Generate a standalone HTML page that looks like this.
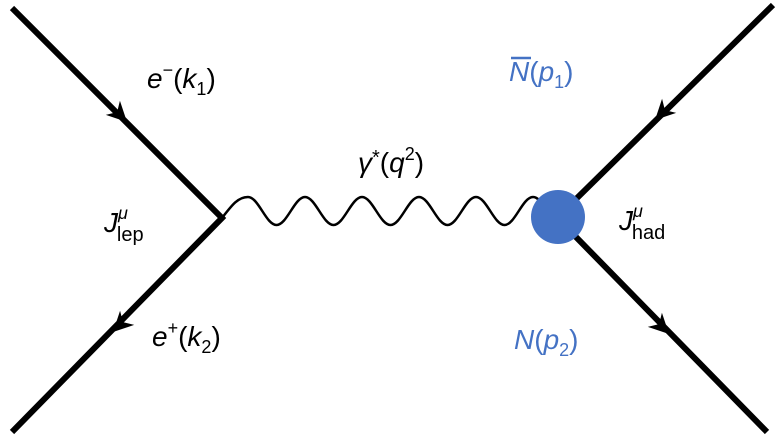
<!DOCTYPE html>
<html><head><meta charset="utf-8"><style>
html,body{margin:0;padding:0;background:#fff;}
svg{display:block;}
text{font-family:"Liberation Sans",Arial,sans-serif;font-size:28px;}
</style></head><body>
<svg width="780" height="439" viewBox="0 0 780 439" xmlns="http://www.w3.org/2000/svg">
<g stroke="#000" stroke-width="6" fill="none" stroke-linecap="butt">
<polyline points="12,8 222,218 12,432"/>
<line x1="575" y1="200" x2="773" y2="5"/>
<line x1="575" y1="236" x2="767" y2="432"/>
</g>
<path d="M222,218 C232,205 238,197 248,197 C258.4,197 266.1,225 276.5,225 C286.9,225 294.6,197 305,197 C315.4,197 323.1,225 333.5,225 C343.9,225 351.6,197 362,197 C372.4,197 380.1,225 390.5,225 C400.9,225 408.6,197 419,197 C429.4,197 437.1,225 447.5,225 C457.9,225 465.6,197 476,197 C486.4,197 494.1,225 504.5,225 C514.9,225 522.6,197 533,197 C538,197 542,203 545,208" stroke="#000" stroke-width="2.5" fill="none"/>
<circle cx="558" cy="217" r="27" fill="#4472c4"/>
<g fill="#000">
<g transform="translate(127,122) rotate(45)"><polygon points="0,0 -20,-10 -14,0 -20,10"/></g>
<g transform="translate(113,332) rotate(135)"><polygon points="0,0 -20,-10 -14,0 -20,10"/></g>
<g transform="translate(655,120) rotate(135)"><polygon points="0,0 -20,-10 -14,0 -20,10"/></g>
<g transform="translate(669,334) rotate(45)"><polygon points="0,0 -20,-10 -14,0 -20,10"/></g>
</g>
<text x="147" y="88"><tspan font-style="italic">e</tspan><tspan font-size="18" dy="-12">−</tspan><tspan dy="12">(</tspan><tspan font-style="italic">k</tspan><tspan font-size="18" dy="7">1</tspan><tspan dy="-7">)</tspan></text>
<text x="152" y="346"><tspan font-style="italic">e</tspan><tspan font-size="18" dy="-12">+</tspan><tspan dy="12">(</tspan><tspan font-style="italic">k</tspan><tspan font-size="18" dy="7">2</tspan><tspan dy="-7">)</tspan></text>
<text x="358" y="172"><tspan font-style="italic">γ</tspan><tspan font-size="20" dy="-8">*</tspan><tspan dy="8">(</tspan><tspan font-style="italic">q</tspan><tspan font-size="18" dy="-12">2</tspan><tspan dy="12">)</tspan></text>
<text x="104" y="232"><tspan font-style="italic">J</tspan><tspan font-size="18" font-style="italic" dy="-13">μ</tspan><tspan font-size="20" dx="-11" dy="22">lep</tspan></text>
<text x="619" y="230"><tspan font-style="italic">J</tspan><tspan font-size="18" font-style="italic" dy="-13">μ</tspan><tspan font-size="20" dx="-11" dy="22">had</tspan></text>
<line x1="511" y1="58" x2="531" y2="58" stroke="#4472c4" stroke-width="2.5"/>
<text x="509" y="81" fill="#4472c4"><tspan font-style="italic">N</tspan><tspan>(</tspan><tspan font-style="italic">p</tspan><tspan font-size="18" dy="7">1</tspan><tspan dy="-7">)</tspan></text>
<text x="514" y="349" fill="#4472c4"><tspan font-style="italic">N</tspan><tspan>(</tspan><tspan font-style="italic">p</tspan><tspan font-size="18" dy="7">2</tspan><tspan dy="-7">)</tspan></text>
</svg>
</body></html>
